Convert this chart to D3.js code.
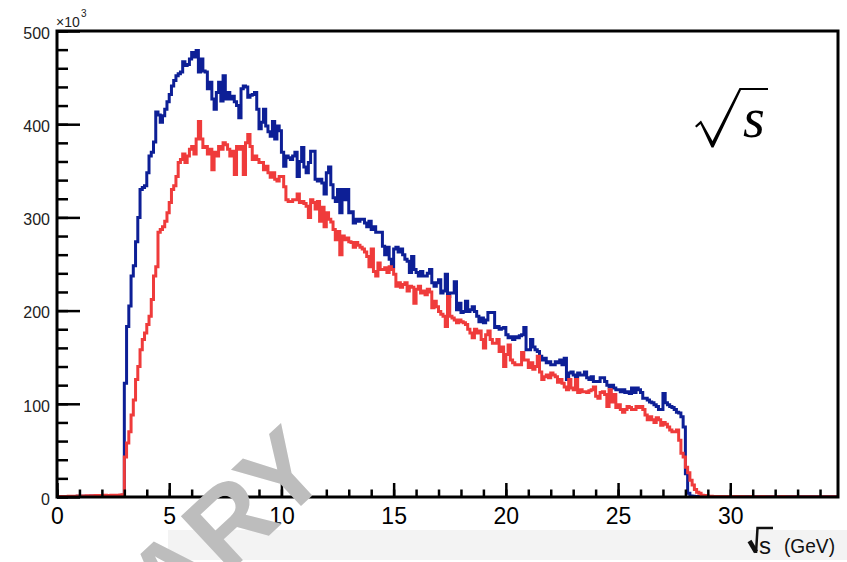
<!DOCTYPE html>
<html>
<head>
<meta charset="utf-8">
<script src="https://cdn.jsdelivr.net/npm/d3@7"></script>
<style>
  html, body { margin: 0; padding: 0; background: #fff; }
  svg { display: block; }
</style>
</head>
<body>
<svg id="chart" width="847" height="562" font-family="Liberation Sans, Arial, Helvetica, sans-serif"></svg>
<script>
// Histogram binning (GeV) and counts per bin (units of 10^3 events)
const binWidth = 0.1;
const xRange = [0, 34.8];
const yRange = [0, 500];

const blueCounts = [
  0.2,0.3,0.3,0.4,0.4,0.5,0.5,0.5,0.6,0.7,
  0.8,0.7,0.7,0.9,0.8,1.0,0.9,1.1,1.0,1.2,
  1.1,1.3,1.2,1.3,1.5,1.3,1.6,1.4,1.7,1.9,
  122,183,205,237,248,274,300,330,332,334,
  348,366,370,381,413,410,402,409,416,424,
  432,441,447,452,454,456,467,463,464,470,
  477,472,479,456,470,457,456,438,445,427,
  416,434,445,425,452,427,434,427,430,424,
  420,407,438,441,440,429,431,432,434,416,
  395,402,416,398,392,387,403,384,398,393,
  370,355,366,364,362,366,370,344,360,375,
  354,348,359,371,371,341,339,341,337,325,
  348,354,335,321,317,330,305,330,319,330,
  305,306,294,298,296,298,298,294,290,296,
  287,290,284,284,284,269,260,268,255,247,
  266,268,263,266,260,255,253,241,258,244,
  241,237,242,237,237,240,244,230,226,230,
  233,219,221,239,215,219,219,231,201,208,
  198,199,210,199,201,204,199,194,188,192,
  187,190,198,198,198,182,183,180,181,182,
  174,171,172,169,172,171,173,174,182,158,
  158,169,161,158,156,151,147,149,144,145,
  142,142,145,144,147,142,149,126,133,134,
  131,129,133,131,131,134,128,126,129,124,
  124,124,128,128,124,120,118,120,117,115,
  115,113,115,112,113,111,117,112,117,115,
  112,106,106,104,102,101,99,97,94,94,
  111,101,99,97,96,94,91,90,86,75,
  25,4,1.2,0.8,0.6,0.5,0.5,0.4,0.4,0.4,
  0.3,0.3,0.4,0.3,0.2,0.3,0.3,0.2,0.3,0.2,
  0.2,0.3,0.2,0.2,0.3,0.2,0.2,0.2,0.3,0.2,
  0.2,0.2,0.2,0.3,0.2,0.2,0.2,0.2,0.2,0.2,
  0.2,0.2,0.3,0.2,0.2,0.2,0.2,0.2,0.2,0.2,
  0.2,0.2,0.2,0.2,0.2,0.2,0.2,0.2,0.2,0.2,
  0.2,0.2,0.2,0.2,0.2,0.2,0.2,0.2
];

const redCounts = [
  0.3,0.5,0.4,0.6,0.5,0.8,0.7,0.6,0.9,1.0,
  1.2,1.0,0.9,1.3,1.1,1.4,1.2,1.5,1.3,1.6,
  1.4,1.8,1.5,1.7,1.9,1.6,2.0,1.8,2.2,2.5,
  43,58,70,88,104,126,140,158,169,176,
  185,194,212,237,247,284,287,290,296,305,
  316,330,334,344,359,362,368,359,366,373,
  376,368,384,403,384,375,376,368,373,351,
  370,366,376,373,380,378,373,366,371,346,
  376,373,376,346,380,389,376,362,366,362,
  359,359,351,355,348,343,348,341,339,344,
  344,333,319,317,317,319,319,325,316,317,
  315,312,300,319,316,309,317,296,311,290,
  305,298,295,287,276,285,260,280,276,278,
  274,273,268,273,270,268,266,263,258,247,
  266,242,237,251,244,244,246,241,247,244,
  239,226,230,225,228,230,221,226,225,208,
  223,226,219,221,217,223,220,203,210,204,
  199,196,194,183,215,194,192,190,187,190,
  188,187,185,180,176,171,180,176,178,169,
  160,174,178,169,165,165,169,156,161,140,
  153,163,147,144,142,142,142,155,147,147,
  139,144,137,140,151,134,126,129,131,128,
  133,131,129,123,126,122,118,115,126,117,
  115,126,112,115,113,113,112,114,115,118,
  108,106,112,113,110,97,115,102,110,96,
  99,94,91,94,97,96,94,94,97,96,
  97,94,88,83,86,83,80,85,83,77,
  80,78,75,72,70,70,72,61,47,43,
  32,26,18,13,8,5,4,2,1.5,1,
  0.8,0.7,0.6,0.6,0.5,0.6,0.5,0.5,0.4,0.5,
  0.5,0.4,0.5,0.4,0.4,0.5,0.4,0.4,0.4,0.5,
  0.4,0.4,0.4,0.4,0.5,0.4,0.4,0.4,0.4,0.4,
  0.4,0.4,0.4,0.5,0.4,0.4,0.4,0.4,0.4,0.4,
  0.4,0.4,0.4,0.4,0.4,0.4,0.4,0.4,0.4,0.4,
  0.4,0.4,0.4,0.4,0.4,0.4,0.4,0.4
];

const xTickLabels = [0, 5, 10, 15, 20, 25, 30];
const yTickLabels = [0, 100, 200, 300, 400, 500];
const xMinorStep = 1;
const yMinorStep = 20;

const svg = d3.select("#chart");
const frame = { left: 57, top: 31, right: 838, bottom: 497 };

const x = d3.scaleLinear().domain(xRange).range([frame.left, frame.right]);
const y = d3.scaleLinear().domain(yRange).range([frame.bottom, frame.top]);

// light strip along the bottom edge
svg.append("rect")
  .attr("x", 168).attr("y", 530).attr("width", 847 - 168).attr("height", 30)
  .attr("fill", "#f3f3f3");

// clip region for histogram lines
svg.append("defs").append("clipPath").attr("id", "plotClip")
  .append("rect")
  .attr("x", frame.left).attr("y", frame.top - 2)
  .attr("width", frame.right - frame.left).attr("height", frame.bottom - frame.top + 2);

// step-line generator: each bin drawn flat across its width
function histPoints(counts) {
  const pts = counts.map((v, i) => [i * binWidth, v]);
  pts.push([counts.length * binWidth, counts[counts.length - 1]]);
  return pts;
}
const stepLine = d3.line()
  .x(d => x(d[0]))
  .y(d => y(d[1]))
  .curve(d3.curveStepAfter);

const plot = svg.append("g").attr("clip-path", "url(#plotClip)");
plot.append("path")
  .attr("d", stepLine(histPoints(blueCounts)))
  .attr("fill", "none").attr("stroke", "#0d1f96").attr("stroke-width", 3)
  .attr("stroke-linejoin", "miter");
plot.append("path")
  .attr("d", stepLine(histPoints(redCounts)))
  .attr("fill", "none").attr("stroke", "#ef3b3b").attr("stroke-width", 3)
  .attr("stroke-linejoin", "miter");

// x axis: major and minor ticks pointing into the frame
const xMinor = svg.append("g").attr("transform", `translate(0,${frame.bottom})`)
  .call(d3.axisBottom(x)
    .tickValues(d3.range(0, xRange[1], xMinorStep))
    .tickSizeInner(-7.5).tickSizeOuter(0).tickFormat(""));
const xMajor = svg.append("g").attr("transform", `translate(0,${frame.bottom})`)
  .call(d3.axisBottom(x)
    .tickValues(xTickLabels)
    .tickSizeInner(-14).tickSizeOuter(0).tickPadding(11)
    .tickFormat(d3.format("d")));

// y axis
const yMinor = svg.append("g").attr("transform", `translate(${frame.left},0)`)
  .call(d3.axisLeft(y)
    .tickValues(d3.range(0, yRange[1] + 1, yMinorStep))
    .tickSizeInner(-11).tickSizeOuter(0).tickFormat(""));
const yMajor = svg.append("g").attr("transform", `translate(${frame.left},0)`)
  .call(d3.axisLeft(y)
    .tickValues(yTickLabels)
    .tickSizeInner(-23).tickSizeOuter(0).tickPadding(7)
    .tickFormat(d3.format("d")));

[xMinor, xMajor, yMinor, yMajor].forEach(g => {
  g.attr("font-family", null);
  g.select(".domain").remove();
  g.selectAll(".tick line").attr("stroke", "#000").attr("stroke-width", 2.5);
});
xMajor.selectAll(".tick text")
  .attr("fill", "#000").attr("font-size", 23);
yMajor.selectAll(".tick text")
  .attr("fill", "#222").attr("font-size", 16)
  .attr("dy", "0.45em");

// frame
svg.append("rect")
  .attr("x", frame.left).attr("y", frame.top)
  .attr("width", frame.right - frame.left).attr("height", frame.bottom - frame.top)
  .attr("fill", "none").attr("stroke", "#000").attr("stroke-width", 3);

// y-axis multiplier
svg.append("text").attr("x", 56).attr("y", 27)
  .attr("font-size", 14).attr("fill", "#222").text("×10");
svg.append("text").attr("x", 81).attr("y", 17)
  .attr("font-size", 10).attr("fill", "#222").text("3");

// x-axis title: √s (GeV)
const xt = svg.append("g");
xt.append("path")
  .attr("d", "M749.5,541 L756,552")
  .attr("stroke", "#111").attr("stroke-width", 4.5).attr("fill", "none");
xt.append("path")
  .attr("d", "M756,553 L757.5,528 L773,528")
  .attr("stroke", "#111").attr("stroke-width", 2.5).attr("fill", "none")
  .attr("stroke-linejoin", "miter");
xt.append("text").attr("x", 759).attr("y", 554)
  .attr("font-size", 24).attr("fill", "#111").text("s");
xt.append("text").attr("x", 835).attr("y", 553)
  .attr("text-anchor", "end").attr("font-size", 21)
  .attr("textLength", 51).attr("lengthAdjust", "spacingAndGlyphs")
  .attr("fill", "#111").text("(GeV)");

// in-frame label: radical s
const lab = svg.append("g");
lab.append("path")
  .attr("d", "M695,126 L701,120.5 L712.5,141 L739.5,88 L768,88 L768,90 L741,90 L713.5,147.5 L711.5,147.5 L700.5,124 L696.5,127.5 Z")
  .attr("fill", "#000");
lab.append("text").attr("x", 743).attr("y", 137)
  .attr("font-family", "Liberation Serif, DejaVu Serif, serif")
  .attr("font-style", "italic").attr("font-size", 56).attr("fill", "#000").text("s");

// watermark
svg.append("text")
  .attr("transform", "translate(333,476) rotate(-43)")
  .attr("text-anchor", "end")
  .attr("font-size", 108).attr("font-weight", "bold")
  .attr("fill", "#bdbdbd")
  .text("PRELIMINARY");
</script>
</body>
</html>
